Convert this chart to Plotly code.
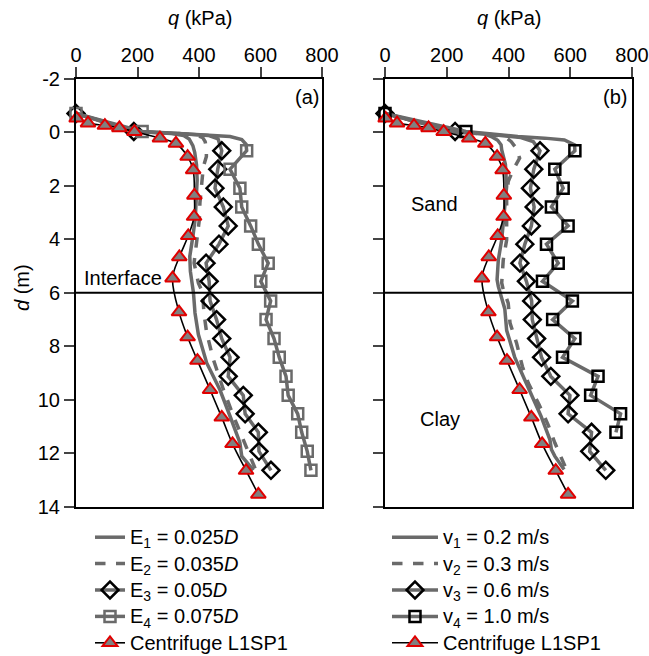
import plotly.graph_objects as go

# ---------------- data (q in kPa, d in m) ----------------
# Centrifuge test L1SP1 (same in both panels)
cent_d = [-0.52, -0.34, -0.25, -0.16, -0.02, 0.22, 0.42, 0.91, 1.41, 2.36, 3.15, 3.87,
          4.66, 5.45, 6.72, 7.65, 8.53, 9.62, 10.65, 11.64, 12.64, 13.53]
cent_q = [2, 39, 94, 141, 190, 273, 325, 363, 381, 385, 384, 365,
          336, 314, 335, 363, 395, 436, 474, 509, 553, 593]

# depths of the numerical markers
mk_d = [-0.70, -0.03, 0.69, 1.38, 2.09, 2.79, 3.50, 4.18, 4.89, 5.57,
        6.30, 7.00, 7.71, 8.41, 9.12, 9.83, 10.52, 11.21, 11.92, 12.63]

# ---- panel (a): mesh size E ----
e1_d = [-0.70, -0.03, 0.05, 0.12, 0.25, 0.50, 0.75, 1.22, 1.78, 2.50, 3.20, 3.90,
        4.64, 5.20, 5.70, 6.00, 6.75, 7.56, 8.62, 9.62, 10.61, 11.60, 12.10, 12.62]
e1_q = [0, 200, 310, 350, 368, 380, 386, 392, 394, 391, 388, 380,
        370, 372, 378, 382, 387, 398, 425, 468, 501, 533, 539, 577]

e2_d = [-0.70, -0.03, 0.04, 0.10, 0.20, 0.35, 0.60, 0.91, 1.30, 1.80, 2.64, 3.27,
        4.00, 4.88, 5.63, 6.00, 6.75, 7.50, 8.50, 9.60, 10.60, 11.50, 12.60]
e2_q = [0, 200, 320, 390, 412, 420, 424, 424, 414, 409, 403, 401,
        392, 384, 398, 412, 416, 425, 447, 479, 512, 544, 584]

e3_q = [0, 188, 474, 461, 452, 479, 495, 465, 423, 433,
        436, 457, 474, 501, 495, 544, 550, 593, 595, 634]
e3_top_d = [0.05, 0.12, 0.25]
e3_top_q = [330, 430, 462]

e4_q = [0, 215, 555, 501, 533, 539, 568, 593, 625, 601,
        633, 618, 644, 661, 683, 690, 721, 734, 752, 764]
e4_top_d = [0.04, 0.09, 0.16, 0.27, 0.45]
e4_top_q = [320, 420, 501, 539, 553]

# ---- panel (b): velocity v ----
v1_d = [-0.70, 0.00, 0.06, 0.16, 0.30, 0.47, 0.66, 1.20, 2.03, 2.60, 3.15, 4.02,
        4.77, 5.51, 5.76, 6.13, 6.60, 7.40, 8.40, 9.65, 10.60, 11.48, 11.85, 12.10, 12.60]
v1_q = [0, 230, 320, 344, 365, 376, 378, 390, 394, 390, 386, 378,
        367, 363, 367, 375, 388, 394, 420, 468, 505, 534, 539, 550, 580]

v2_d = [-0.70, 0.00, 0.08, 0.18, 0.35, 0.60, 0.97, 1.40, 1.84, 2.53, 3.30, 4.02,
        4.77, 5.63, 5.88, 6.38, 7.13, 7.87, 8.75, 9.37, 10.20, 10.95, 11.60, 12.23, 12.48]
v2_q = [0, 230, 340, 390, 409, 425, 436, 415, 399, 394, 394, 394,
        383, 378, 383, 399, 405, 426, 445, 464, 500, 529, 550, 572, 583]

v3_q = [0, 227, 502, 482, 471, 483, 474, 453, 437, 458,
        475, 477, 491, 507, 537, 599, 593, 669, 663, 715]
v3_top_d = [0.10, 0.20, 0.35]
v3_top_q = [360, 440, 480]

v4_q = [0, 262, 615, 550, 577, 539, 593, 523, 561, 510,
        607, 543, 615, 575, 690, 666, 763, 748]
v4_top_d = [0.10, 0.16, 0.22, 0.29, 0.47]
v4_top_q = [380, 430, 517, 581, 614]

x_ticks = [0, 200, 400, 600, 800]
y_ticks = [-2, 0, 2, 4, 6, 8, 10, 12, 14]
y_ticktext = ["-2", "0", "2", "4", "6", "8", "10", "12", "14"]

names_a = ["E<sub>1</sub> = 0.025<i>D</i>", "E<sub>2</sub> = 0.035<i>D</i>",
           "E<sub>3</sub> = 0.05<i>D</i>", "E<sub>4</sub> = 0.075<i>D</i>",
           "Centrifuge L1SP1"]
names_b = ["v<sub>1</sub> = 0.2 m/s", "v<sub>2</sub> = 0.3 m/s",
           "v<sub>3</sub> = 0.6 m/s", "v<sub>4</sub> = 1.0 m/s",
           "Centrifuge L1SP1"]

# ---------------- styles ----------------
GRAY = "#6a6a6a"
FONT = "Arial, Liberation Sans, sans-serif"
LW = 3.5

W, H = 649, 656


def px(xpix):
    return xpix / W


def py(ypix):
    return 1 - ypix / H


fig = go.Figure()


def curve(xa, ya, q, d, dash="solid"):
    fig.add_trace(go.Scatter(x=q, y=d, xaxis=xa, yaxis=ya, mode="lines",
                             line=dict(color=GRAY, width=LW, dash=dash),
                             showlegend=False, hoverinfo="skip"))


def markers(xa, ya, q, d, symbol, edge, size):
    fig.add_trace(go.Scatter(x=q, y=d, xaxis=xa, yaxis=ya, mode="markers",
                             marker=dict(symbol=symbol, size=size, color="rgba(0,0,0,0)",
                                         line=dict(color=edge, width=2.5)),
                             cliponaxis=False, showlegend=False, hoverinfo="skip"))


def numeric_series(xa, ya, qs, top_d, top_q, symbol, edge, size):
    n = len(qs)
    cd = mk_d[:2] + top_d + mk_d[2:n]
    cq = qs[:2] + top_q + qs[2:n]
    curve(xa, ya, cq, cd)
    markers(xa, ya, qs, mk_d[:n], symbol, edge, size)


def centrifuge(xa, ya):
    fig.add_trace(go.Scatter(x=cent_q, y=cent_d, xaxis=xa, yaxis=ya, mode="lines+markers",
                             line=dict(color="black", width=1.6, shape="spline"),
                             marker=dict(symbol="triangle-up", size=13, color="#808080",
                                         line=dict(color="#e00000", width=2)),
                             cliponaxis=False, showlegend=False, hoverinfo="skip"))


def legend_entry(leg, name, dash=None, symbol=None, edge=None, size=None, cent=False):
    label = '<span style="font-size:20px">' + name + '</span>'
    if cent:
        tr = go.Scatter(x=[None], y=[None], mode="lines+markers", name=label,
                        line=dict(color="black", width=1.6),
                        marker=dict(symbol="triangle-up", size=13, color="#808080",
                                    line=dict(color="#e00000", width=2)))
    elif symbol is None:
        tr = go.Scatter(x=[None], y=[None], mode="lines", name=label,
                        line=dict(color=GRAY, width=LW, dash=dash))
    else:
        tr = go.Scatter(x=[None], y=[None], mode="lines+markers", name=label,
                        line=dict(color=GRAY, width=LW),
                        marker=dict(symbol=symbol, size=size, color="rgba(0,0,0,0)",
                                    line=dict(color=edge, width=2.5)))
    tr.update(legend=leg, legendgroup=leg + name, showlegend=True,
              xaxis="x" if leg == "legend" else "x2", yaxis="y" if leg == "legend" else "y2")
    fig.add_trace(tr)


# panel (a)
curve("x", "y", e1_q, e1_d)
curve("x", "y", e2_q, e2_d, dash="dash")
numeric_series("x", "y", e3_q, e3_top_d, e3_top_q, "diamond", "black", 13)
numeric_series("x", "y", e4_q, e4_top_d, e4_top_q, "square", GRAY, 11)
centrifuge("x", "y")

# panel (b)
curve("x2", "y2", v1_q, v1_d)
curve("x2", "y2", v2_q, v2_d, dash="dash")
numeric_series("x2", "y2", v3_q, v3_top_d, v3_top_q, "diamond", "black", 13)
numeric_series("x2", "y2", v4_q, v4_top_d, v4_top_q, "square", "black", 11)
centrifuge("x2", "y2")

# legends
legend_entry("legend", names_a[0], dash="solid")
legend_entry("legend", names_a[1], dash="dash")
legend_entry("legend", names_a[2], symbol="diamond", edge="black", size=13)
legend_entry("legend", names_a[3], symbol="square", edge=GRAY, size=11)
legend_entry("legend", names_a[4], cent=True)
legend_entry("legend2", names_b[0], dash="solid")
legend_entry("legend2", names_b[1], dash="dash")
legend_entry("legend2", names_b[2], symbol="diamond", edge="black", size=13)
legend_entry("legend2", names_b[3], symbol="square", edge="black", size=11)
legend_entry("legend2", names_b[4], cent=True)

ydom = [py(507.0), py(78.7)]

xax = dict(range=[0, 800], side="top", tickvals=x_ticks, ticks="outside", ticklen=10,
           tickwidth=2, linewidth=2, linecolor="black", mirror=True, showline=True,
           showgrid=False, zeroline=False, tickfont=dict(size=20, color="black"),
           automargin=False, ticklabelstandoff=-3)
yax = dict(range=[14, -2], tickvals=y_ticks, ticktext=y_ticktext, ticks="outside", ticklen=10,
           tickwidth=2, linewidth=2, linecolor="black", mirror=True, showline=True,
           showgrid=False, zeroline=False, tickfont=dict(size=20, color="black"),
           domain=ydom, automargin=False)

leg_common = dict(font=dict(size=18, color="black", family=FONT), bgcolor="rgba(0,0,0,0)",
                  traceorder="grouped", tracegroupgap=0, yanchor="top", xanchor="left",
                  borderwidth=0)

ann = dict(showarrow=False, font=dict(size=20), xanchor="center", yanchor="middle")

fig.update_layout(
    width=W, height=H, margin=dict(l=0, r=0, t=0, b=0, autoexpand=False),
    paper_bgcolor="white", plot_bgcolor="white",
    font=dict(family=FONT, size=20, color="black"),
    xaxis=dict(xax, domain=[px(76), px(322)], anchor="y"),
    yaxis=dict(yax, anchor="x"),
    xaxis2=dict(xax, domain=[px(385), px(632)], anchor="y2"),
    yaxis2=dict(yax, anchor="x2", showticklabels=False),
    legend=dict(leg_common, x=px(90), y=py(519), itemwidth=30),
    legend2=dict(leg_common, x=px(387), y=py(519), itemwidth=46),
    shapes=[
        dict(type="line", xref="x domain", yref="y", x0=0, x1=1, y0=6, y1=6,
             line=dict(color="black", width=2)),
        dict(type="line", xref="x2 domain", yref="y2", x0=0, x1=1, y0=6, y1=6,
             line=dict(color="black", width=2)),
    ],
    annotations=[
        dict(ann, text="<i>q</i> (kPa)", xref="paper", yref="paper", x=px(200), y=py(18.3)),
        dict(ann, text="<i>q</i> (kPa)", xref="paper", yref="paper", x=px(508.5), y=py(18.3)),
        dict(ann, text="<i>d</i> (m)", xref="paper", yref="paper", x=px(22), y=py(288),
             textangle=-90),
        dict(ann, text="(a)", xref="x", yref="y", x=797, y=-1.33, xanchor="right"),
        dict(ann, text="(b)", xref="x2", yref="y2", x=790, y=-1.33, xanchor="right"),
        dict(ann, text="Interface", xref="x", yref="y", x=153, y=5.45),
        dict(ann, text="Sand", xref="x2", yref="y2", x=160, y=2.68),
        dict(ann, text="Clay", xref="x2", yref="y2", x=178, y=10.73),
    ],
)

# remove the default 8px page margin so the 649x656 figure fills the window exactly
fig.write_html("out.html",
               config={"displayModeBar": False},
               post_script="document.body.style.margin='0px';"
                           "document.body.style.overflow='hidden';"
                           "document.documentElement.style.overflow='hidden';")
